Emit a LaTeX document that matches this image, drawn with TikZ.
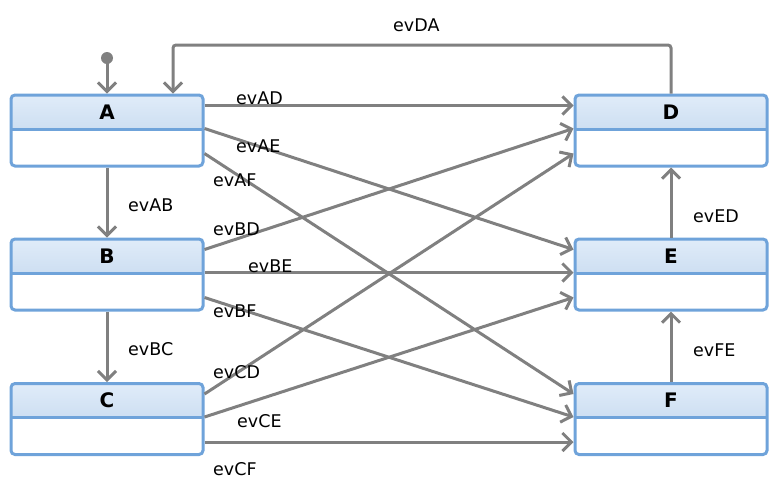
\documentclass[tikz,border=0pt]{standalone}
\usepackage{fontspec}
\setmainfont{DejaVu Sans}
\usetikzlibrary{arrows.meta}
\definecolor{boxblue}{HTML}{6FA3DA}
\definecolor{hdtop}{HTML}{E0ECF9}
\definecolor{hdbot}{HTML}{B9D0EA}
\definecolor{flowgray}{HTML}{808080}
\tikzset{
  statebox/.style={draw=boxblue, line width=3pt, fill=white, rounded corners=4pt,
    minimum width=192pt, inner sep=0pt, text height=24pt, text depth=47pt,
    font=\fontsize{20}{22}\selectfont\bfseries,
    path picture={
      \shade[top color=hdtop, bottom color=hdbot]
        (path picture bounding box.north west) rectangle ([yshift=-34pt]path picture bounding box.north east);
      \draw[boxblue, line width=3pt]
        ([yshift=-34pt]path picture bounding box.north west) -- ([yshift=-34pt]path picture bounding box.north east);
    }},
  flow/.style={draw=flowgray, line width=3pt, -{Straight Barb[length=9pt,width=18pt]}},
  evlabel/.style={anchor=base west, inner sep=0pt, font=\fontsize{17.5}{20}\selectfont}
}
\begin{document}
\begin{tikzpicture}[x=1pt,y=-1pt]
\useasboundingbox (0,0) rectangle (777,491);
\node[statebox] (A) at (107,130.5) {A};
\node[statebox] (B) at (107,274.5) {B};
\node[statebox] (C) at (107,419) {C};
\node[statebox] (D) at (671,130.5) {D};
\node[statebox] (E) at (671,274.5) {E};
\node[statebox] (F) at (671,419) {F};
\fill[flowgray] (107,58) circle (6pt) coordinate (init);
\draw[flow] (init) -- (A.north);
% exit/entry points
\foreach \n in {A,B,C}{
  \coordinate (\n o1) at ([yshift=-12pt]\n.north east);
  \coordinate (\n o2) at ([yshift=-35pt]\n.north east);
  \coordinate (\n o3) at ([yshift=-60pt]\n.north east);
}
\foreach \n in {D,E,F}{
  \coordinate (\n i1) at ([yshift=-12pt]\n.north west);
  \coordinate (\n i2) at ([yshift=-35pt]\n.north west);
  \coordinate (\n i3) at ([yshift=-60pt]\n.north west);
}
\draw[flow] (Ao1) -- (Di1);
\draw[flow] (Ao2) -- (Ei1);
\draw[flow] (Ao3) -- (Fi1);
\draw[flow] (Bo1) -- (Di2);
\draw[flow] (Bo2) -- (Ei2);
\draw[flow] (Bo3) -- (Fi2);
\draw[flow] (Co1) -- (Di3);
\draw[flow] (Co2) -- (Ei3);
\draw[flow] (Co3) -- (Fi3);
\draw[flow] (A.south) -- (B.north);
\draw[flow] (B.south) -- (C.north);
\draw[flow] (E.north) -- (D.south);
\draw[flow] (F.north) -- (E.south);
\coordinate (aIn) at ([xshift=66pt]A.north);
\coordinate (daLevel) at (0,45);
\draw[flow, rounded corners=3pt] (D.north) -- (D.north |- daLevel) -| (aIn);
% labels
\node[evlabel] (lDA) at (393,31) {evDA};
\node[evlabel] (lAD) at (236,104) {evAD};
\node[evlabel] (lAE) at (236,152) {evAE};
\node[evlabel] (lAF) at (213,186) {evAF};
\node[evlabel] (lBD) at (213,235) {evBD};
\node[evlabel] (lBE) at (248,272) {evBE};
\node[evlabel] (lBF) at (213,317) {evBF};
\node[evlabel] (lCD) at (213,378) {evCD};
\node[evlabel] (lCE) at (237,427) {evCE};
\node[evlabel] (lCF) at (213,475) {evCF};
\node[evlabel] (lAB) at (128,211) {evAB};
\node[evlabel] (lBC) at (128,355) {evBC};
\node[evlabel] (lED) at (693,222) {evED};
\node[evlabel] (lFE) at (693,356) {evFE};
\end{tikzpicture}
\end{document}
